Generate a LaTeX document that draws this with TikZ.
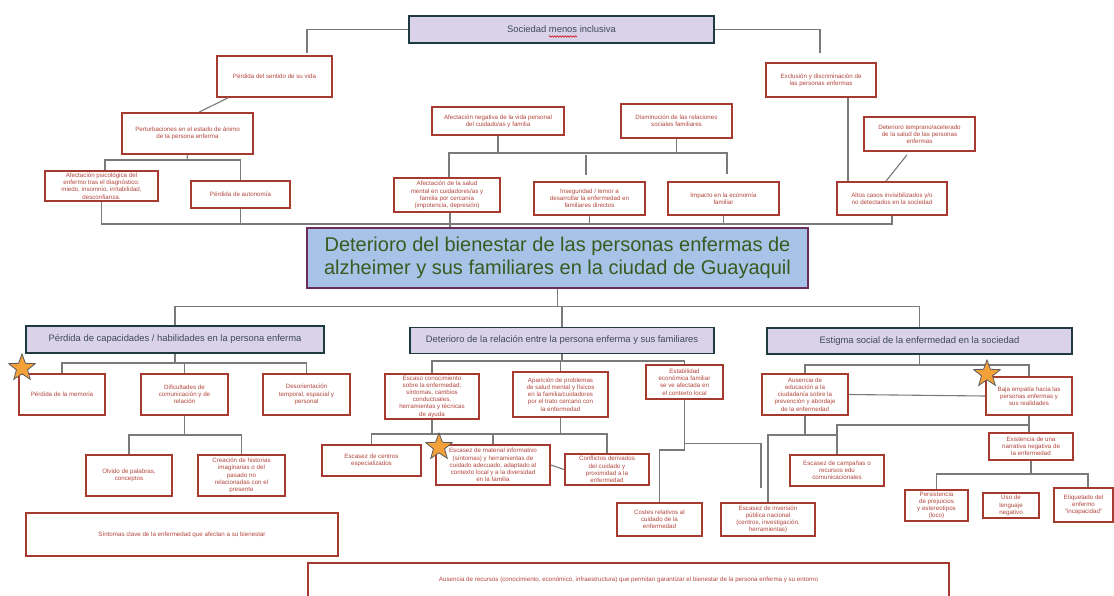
\documentclass[tikz,border=0pt]{standalone}
\usepackage{fontspec}
\setmainfont{Liberation Sans}
\usetikzlibrary{shapes.geometric,calc,decorations.pathmorphing}
\definecolor{boxred}{HTML}{A63A2E}
\definecolor{txtred}{HTML}{B3463C}
\definecolor{conngray}{HTML}{7A7A7A}
\definecolor{catfill}{HTML}{D9D2E9}
\definecolor{catdraw}{HTML}{1E3B40}
\definecolor{cattext}{HTML}{3F4A54}
\definecolor{cenfill}{HTML}{A7C4E8}
\definecolor{cendraw}{HTML}{6A2E5A}
\definecolor{centext}{HTML}{3A5A20}
\definecolor{starfill}{HTML}{F5A13A}
\definecolor{stardraw}{HTML}{5A5A5A}
\tikzset{
 rbox/.style={draw=boxred, line width=1.7pt, fill=white, text=txtred, align=center, inner sep=0pt, font=\fontsize{6.2}{7.2}\selectfont},
 cbox/.style={draw=catdraw, line width=1.8pt, fill=catfill, text=cattext, align=center, inner sep=0pt, font=\fontsize{9.4}{11}\selectfont},
 conn/.style={draw=conngray, line width=1.1pt},
 starnode/.style={star, star points=5, star point ratio=2.4, minimum size=28pt, inner sep=0pt, fill=starfill, draw=stardraw, line width=0.8pt},
}
\newcommand\mybox[6]{\node[rbox, minimum width=#4pt, minimum height=#5pt] (#1) at (#2,#3) {#6};}
\newcommand\mycat[6]{\node[cbox, minimum width=#4pt, minimum height=#5pt] (#1) at (#2,#3) {#6};}
\begin{document}
\begin{tikzpicture}[x=1pt,y=-1pt]
\useasboundingbox (0,0) rectangle (1114,595);
\clip (0,0) rectangle (1114,595);
% ---------- top ----------
\mycat{soc}{561.5}{29.5}{305}{27}{Sociedad menos inclusiva}
\mybox{sentido}{274.5}{76.5}{115}{41}{Pérdida del sentido de su vida}
\mybox{perturb}{187.5}{133.5}{131}{41}{Perturbaciones en el estado de ánimo\\de la persona enferma}
\mybox{psico}{101.5}{186}{113}{30}{Afectación psicológica del\\enfermo tras el diagnóstico:\\miedo, insomnio, irritabilidad,\\desconfianza.}
\mybox{autonomia}{240.5}{194.5}{99}{27}{Pérdida de autonomía}
\mybox{afneg}{498}{121}{132}{28}{Afectación negativa de la vida personal\\del cuidado/as y familia}
\mybox{dismin}{676.5}{121}{111}{34}{Disminución de las relaciones\\sociales familiares}
\mybox{afsalud}{447}{195}{106}{34}{Afectación de la salud\\mental en cuidadores/as y\\familia por cercanía\\(impotencia, depresión)}
\mybox{insegur}{589.5}{198.5}{111}{33}{Inseguridad / temor a\\desarrollar la enfermedad en\\familiares directos}
\mybox{impacto}{723.5}{198.5}{111}{33}{Impacto en la economía\\familiar}
\mybox{exclus}{821}{80}{110}{34}{Exclusión y discriminación de\\las personas enfermas}
\mybox{temprano}{919.5}{134}{111}{34}{Deterioro temprano/acelerado\\de la salud de las personas\\enfermas}
\mybox{altos}{892}{198.5}{110}{33}{Altos casos invisibilizados y/o\\no detectados en la sociedad}
% ---------- central ----------
\node[draw=cendraw, line width=1.5pt, fill=cenfill, text=centext, align=center, inner sep=0pt,
  minimum width=501pt, minimum height=60pt, font=\fontsize{20}{22.5}\selectfont] (central) at (557.5,258)
  {Deterioro del bienestar de las personas enfermas de\\alzheimer y sus familiares en la ciudad de Guayaquil};
% ---------- categories ----------
\mycat{catA}{175}{339.5}{298}{27}{Pérdida de capacidades / habilidades en la persona enferma}
\mycat{catB}{562}{340.5}{304}{26}{Deterioro de la relación entre la persona enferma y sus familiares}
\mycat{catC}{919.5}{341}{305}{26}{Estigma social de la enfermedad en la sociedad}
% ---------- left group ----------
\mybox{memoria}{62}{394.5}{86}{41}{Pérdida de la memoria}
\mybox{dificult}{184.5}{394.5}{87}{41}{Dificultades de\\comunicación y de\\relación}
\mybox{desorient}{306.5}{394.5}{87}{41}{Desorientación\\temporal, espacial y\\personal}
\mybox{olvido}{129}{475.5}{86}{41}{Olvido de palabras,\\conceptos}
\mybox{creacion}{241.5}{475.5}{87}{41}{Creación de historias\\imaginarias o del\\pasado no\\relacionadas con el\\presente}
\mybox{sintomas}{182}{534.5}{312}{43}{Síntomas clave de la enfermedad que afectan a su bienestar}
\mybox{ausrec}{628.5}{580}{641}{34}{Ausencia de recursos (conocimiento, económico, infraestructura) que permitan garantizar el bienestar de la persona enferma y su entorno}
% ---------- middle group ----------
\mybox{escaso}{432}{396.5}{94}{45}{Escaso conocimiento\\sobre la enfermedad;\\síntomas, cambios\\conductuales,\\herramientas y técnicas\\de ayuda}
\mybox{aparic}{560.5}{394.5}{95}{45}{Aparición de problemas\\de salud mental y físicos\\en la familia/cuidadores\\por el trato cercano con\\la enfermedad}
\mybox{estab}{684.5}{382}{77}{34}{Estabilidad\\económica familiar\\se ve afectada en\\el contexto local}
\mybox{centros}{371.5}{460.5}{99}{31}{Escasez de centros\\especializados}
\mybox{material}{493}{465}{114}{40}{Escasez de material informativo\\(síntomas) y herramientas de\\cuidado adecuado, adaptado al\\contexto local y a la diversidad\\en la familia}
\mybox{conflict}{607}{469.5}{84}{31}{Conflictos derivados\\del cuidado y\\proximidad a la\\enfermedad}
\mybox{costes}{659.5}{519.5}{85}{33}{Costes relativos al\\cuidado de la\\enfermedad}
\mybox{inversion}{768}{519.5}{94}{33}{Escasez de inversión\\pública nacional\\(centros, investigación,\\herramientas)}
% ---------- right group ----------
\mybox{ausedu}{805}{394.5}{86}{41}{Ausencia de\\educación a la\\ciudadanía sobre la\\prevención y abordaje\\de la enfermedad}
\mybox{baja}{1029}{396}{86}{38}{Baja empatía hacia las\\personas enfermas y\\sus realidades}
\mybox{narrat}{1031}{446.5}{84}{27}{Existencia de una\\narrativa negativa de\\la enfermedad}
\mybox{campanas}{837}{470.5}{94}{31}{Escasez de campañas o\\recursos edu\\comunicacionales}
\mybox{persist}{936.5}{505.5}{63}{31}{Persistencia\\de prejuicios\\y estereotipos\\(loco)}
\mybox{uso}{1011}{505.5}{56}{25}{Uso de\\lenguaje\\negativo}
\mybox{etiq}{1083.5}{505}{59}{34}{Etiquetado del\\enfermo\\"incapacidad"}
% ---------- junction coordinates ----------
\coordinate (a1) at (307,53);
\coordinate (a2) at (820,53);
\coordinate (pj) at (187,160);
\coordinate (hl) at (0,224);
\coordinate (h2) at (0,153);
\coordinate (e1) at (727,174);
\coordinate (ja) at (0,363);
\coordinate (jb) at (0,435);
\coordinate (jc) at (0,361);
\coordinate (jd) at (0,434);
\coordinate (je) at (0,450);
\coordinate (e3) at (761,488);
\coordinate (jf) at (0,365);
\coordinate (jg) at (0,435);
\coordinate (jh) at (0,425);
\coordinate (ji) at (0,474);
% ---------- connectors ----------
\draw[conn] (soc.west) -| (a1);
\draw[conn] (soc.east) -| (a2);
\draw[conn] ([xshift=-46.5pt]sentido.south) -- ([xshift=11.5pt]perturb.north);
\draw[conn] (perturb.south) -- (pj);
\draw[conn] ([xshift=3.5pt]psico.north) |- (pj) -| (autonomia.north);
\draw[conn] (psico.south) |- (altos.south |- hl) -- (altos.south);
\draw[conn] (autonomia.south) -- (autonomia.south |- hl);
\draw[conn] ([xshift=3pt]afsalud.south) -- ([xshift=3pt]afsalud.south |- central.north);
\draw[conn] (insegur.south) -- (insegur.south |- hl);
\draw[conn] (impacto.south) -- (impacto.south |- hl);
\draw[conn] (afneg.south) -- (afneg.south |- h2);
\draw[conn] (dismin.south) -- (dismin.south |- h2);
\draw[conn] ([xshift=2pt]afsalud.north) |- (e1 |- h2) -- (e1);
\draw[conn] ([xshift=-3.5pt,yshift=6pt]insegur.north) -- ++(0,-20);
\draw[conn] ([xshift=27pt]exclus.south) -- ([xshift=27pt]exclus.south |- altos.north);
\draw[conn] ([xshift=-12.5pt,yshift=-3pt]temprano.south) -- ([xshift=-6pt]altos.north);
% central to categories
\draw[conn] (central.south) -- ++(0,18) coordinate (cj);
\draw[conn] (catA.north) |- (cj) -| (catC.north);
\draw[conn] (catB.north) -- (catB.north |- cj);
% left group
\draw[conn] (catA.south) -- (catA.south |- ja);
\draw[conn] (memoria.north) |- (desorient.north |- ja) -- (desorient.north);
\draw[conn] (dificult.north) -- (dificult.north |- ja);
\draw[conn] (dificult.south) -- (dificult.south |- jb);
\draw[conn] (olvido.north) |- (creacion.north |- jb) -- (creacion.north);
% middle group
\draw[conn] (catB.south) -- (catB.south |- jc);
\draw[conn] (escaso.north) |- (estab.north |- jc) -- (estab.north);
\draw[conn] (aparic.north) -- (aparic.north |- jc);
\draw[conn] (escaso.south) -- (escaso.south |- jd);
\draw[conn] (centros.north) |- (conflict.north |- jd) -- (conflict.north);
\draw[conn] (material.north) -- (material.north |- jd);
\draw[conn] (aparic.south) -- (aparic.south |- jd);
\draw[conn] (material.east) -- (conflict.west);
\draw[conn] (estab.south) |- (costes.north |- je) -- (costes.north);
\draw[conn] ([yshift=-44pt]estab.south) -| (e3);
% right group
\draw[conn] (catC.south) -- (catC.south |- jf);
\draw[conn] (ausedu.north) |- (baja.north |- jf) -- (baja.north);
\draw[conn] (ausedu.east) -- (baja.west);
\draw[conn] (inversion.north) |- (ausedu.south |- jg) -- (ausedu.south);
\draw[conn] (ausedu.south |- jg) -- (campanas.north |- jg);
\draw[conn] (campanas.north) |- (baja.south |- jh);
\draw[conn] (baja.south) -- (baja.south |- narrat.north);
\draw[conn] (narrat.south) -- (narrat.south |- ji);
\draw[conn] (persist.north) |- ([xshift=4.5pt]etiq.north |- ji) -- ([xshift=4.5pt]etiq.north);
% ---------- stars ----------
\node[starnode] (s1) at (22,368) {};
\node[starnode] (s2) at (439,447) {};
\node[starnode] (s3) at (987,374) {};
% spell-check squiggle
\draw[red!80!black, line width=0.5pt, decorate, decoration={zigzag, amplitude=0.8pt, segment length=2.6pt}] (549,36.5) -- (577,36.5);
\end{tikzpicture}
\end{document}
